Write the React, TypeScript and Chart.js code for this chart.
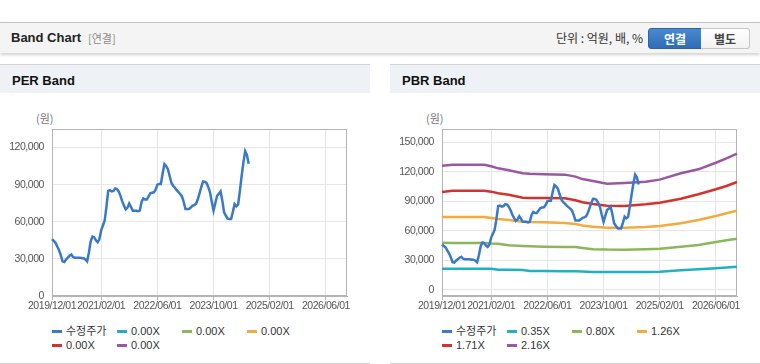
import React, { useEffect, useRef } from 'react';
import { Chart, registerables } from 'chart.js';

Chart.register(...registerables);

// ---------- DATA ----------
// semi-monthly categories from 2019/12/01 to 2026/12/01
const dateLabels: string[] = (() => {
  const out: string[] = [];
  for (let i = 0; i <= 168; i++) {
    const total = 2019 * 12 + 11 + Math.floor(i / 2);
    const y = Math.floor(total / 12);
    const m = (total % 12) + 1;
    out.push(`${y}/${String(m).padStart(2, '0')}/${i % 2 ? '16' : '01'}`);
  }
  return out;
})();

const xTickLabels = ['2019/12/01', '2021/02/01', '2022/06/01', '2023/10/01', '2025/02/01', '2026/06/01'];

const perYTicks = [0, 30000, 60000, 90000, 120000];
const pbrYTicks = [0, 30000, 60000, 90000, 120000, 150000];

// 수정주가 (semi-monthly, from 2019/12/01)
const priceValues = [
  46000, 44500, 43000, 40000, 37000, 33000, 28000, 27500, 29500, 31000,
  32500, 33500, 31500, 31000, 31000, 31000, 31000, 30500, 30500, 29500,
  28000, 35000, 44000, 48000, 47500, 45000, 43500, 46000, 53000, 57000,
  61000, 72000, 85000, 85500, 84500, 85000, 87000, 86500, 84500, 81000,
  76500, 73000, 70000, 71500, 74800, 72000, 69000, 69000, 69000, 68500,
  69000, 76000, 79000, 78000, 78000, 80500, 83000, 83500, 83800, 86000,
  90000, 90500, 90500, 99000, 106500, 105000, 102500, 97000, 91500, 89000,
  87500, 85500, 84000, 82500, 80500, 76000, 70300, 70300, 70300, 71500,
  73000, 73500, 74500, 78000, 83000, 88000, 92500, 92300, 91400, 88000,
  83800, 76000, 69000, 75000, 81000, 82500, 84500, 77000, 67600, 65000,
  62500, 62200, 62200, 68000, 74300, 72500, 74000, 85000, 97000, 108000,
  117000, 114000, 107000,
];

// PBR band points
const bandDates = [
  '2019/12/01', '2020/03/01', '2020/12/01', '2021/02/01', '2021/04/01', '2021/07/01',
  '2021/11/01', '2022/01/01', '2022/05/01', '2022/11/01', '2023/02/01', '2023/04/01',
  '2023/07/01', '2023/11/01', '2024/04/01', '2024/10/01', '2025/02/01', '2025/08/01',
  '2026/01/01', '2026/06/01', '2026/09/01', '2026/12/01',
];
const band035 = [21400, 21400, 21400, 21400, 20300, 20200, 20000, 19000, 19000, 18800, 18800, 18600, 18000, 18000, 18000, 18000, 18200, 19700, 20700, 21800, 22500, 23400];
const band080 = [47800, 47600, 47500, 47000, 46800, 45100, 44400, 44100, 43800, 43500, 43300, 42400, 41200, 40800, 40700, 41200, 41700, 43700, 45500, 48500, 50200, 51900];
const band126 = [73900, 73900, 73900, 72900, 72000, 70900, 69200, 68800, 68500, 67900, 66800, 65300, 64100, 63000, 63000, 63800, 64800, 67500, 70900, 74900, 77700, 80300];
const band171 = [99400, 100600, 100600, 99700, 98000, 96600, 93600, 93300, 93200, 92900, 91000, 89000, 87100, 85400, 85100, 86800, 88500, 92500, 97000, 102100, 105500, 109500];
const band216 = [126000, 127000, 127000, 125500, 123400, 121400, 118400, 117800, 117300, 117000, 115000, 112500, 110500, 107800, 108600, 109800, 111900, 118400, 122400, 129100, 133600, 138300];

const priceLabel = '수정주가';
const perBandLabels = ['0.00X', '0.00X', '0.00X', '0.00X', '0.00X'];
const pbrBandLabels = ['0.35X', '0.80X', '1.26X', '1.71X', '2.16X'];
const pbrBandValues = [band035, band080, band126, band171, band216];

const priceColor = '#3a78c8';
const bandColors = ['#1fb0c6', '#8cb65a', '#f3aa3e', '#d2332e', '#9b57a6'];

// ---------- CHART ----------
const FONT = '"Liberation Sans", Arial, sans-serif';

const tightText = {
  id: 'tightText',
  beforeLayout(chart: any) {
    (chart.ctx as any).letterSpacing = '-0.45px';
  },
  beforeDraw(chart: any) {
    (chart.ctx as any).letterSpacing = '-0.45px';
  },
};

const borderBox = {
  id: 'borderBox',
  beforeDatasetsDraw(chart: any) {
    const { ctx, chartArea: a } = chart;
    ctx.save();
    ctx.strokeStyle = '#b4b4b4';
    ctx.lineWidth = 1;
    ctx.strokeRect(Math.round(a.left) + 0.5, Math.round(a.top) + 0.5, Math.round(a.right - a.left) - 1, Math.round(a.bottom - a.top) - 1);
    ctx.restore();
  },
};

function makeConfig(datasets: any[], yMin: number, yMax: number, yTicks: number[]): any {
  return {
    type: 'line',
    data: { labels: dateLabels, datasets },
    options: {
      animation: false,
      responsive: false,
      events: [],
      layout: { padding: { top: 28, right: 23, left: 0, bottom: 0 } },
      plugins: { legend: { display: false }, tooltip: { enabled: false } },
      elements: { point: { radius: 0 }, line: { borderWidth: 2.5, tension: 0 } },
      scales: {
        x: {
          type: 'category',
          offset: false,
          grid: { color: '#e6e6e6', tickColor: '#b4b4b4', tickLength: 4, drawTicks: true },
          border: { color: '#b4b4b4' },
          ticks: {
            autoSkip: false,
            maxRotation: 0,
            minRotation: 0,
            padding: 0,
            color: '#555',
            font: { family: FONT, size: 10.5 },
          },
          afterBuildTicks: (s: any) => {
            s.ticks = xTickLabels.map((d) => ({ value: dateLabels.indexOf(d) }));
          },
          afterFit: (s: any) => {
            s.height = 25;
          },
        },
        y: {
          min: yMin,
          max: yMax,
          grid: { color: '#e6e6e6', drawTicks: false },
          border: { color: '#b4b4b4' },
          ticks: {
            padding: 8,
            color: '#555',
            font: { family: FONT, size: 10.5 },
            callback: (v: any) => Number(v).toLocaleString('en-US'),
          },
          afterBuildTicks: (s: any) => {
            s.ticks = yTicks.map((v) => ({ value: v }));
          },
          afterFit: (s: any) => {
            s.width = 52;
          },
        },
      },
    },
    plugins: [tightText, borderBox],
  };
}

function BandCanvas({ kind }: { kind: 'PER' | 'PBR' }) {
  const ref = useRef<HTMLCanvasElement | null>(null);
  useEffect(() => {
    if (!ref.current) return;
    const priceDs = {
      label: priceLabel,
      data: priceValues,
      borderColor: priceColor,
      backgroundColor: priceColor,
      fill: false,
    };
    let datasets: any[];
    let chart: Chart;
    if (kind === 'PER') {
      datasets = [
        priceDs,
        ...perBandLabels.map((l, i) => ({ label: l, data: [], borderColor: bandColors[i], fill: false })),
      ];
      chart = new Chart(ref.current, makeConfig(datasets, 0, 135000, perYTicks));
    } else {
      datasets = [
        priceDs,
        ...pbrBandLabels.map((l, i) => ({
          label: l,
          data: bandDates.map((d, j) => ({ x: d, y: pbrBandValues[i][j] })),
          borderColor: bandColors[i],
          fill: false,
        })),
      ];
      chart = new Chart(ref.current, makeConfig(datasets, -6400, 163400, pbrYTicks));
    }
    return () => chart.destroy();
  }, [kind]);
  return <canvas ref={ref} width={370} height={220} style={{ position: 'absolute', left: 0, top: 36, width: 370, height: 220 }} />;
}

function Legend({ labels }: { labels: string[] }) {
  const items = [{ label: priceLabel, color: priceColor }, ...labels.map((l, i) => ({ label: l, color: bandColors[i] }))];
  return (
    <>
      {items.map((it, i) => {
        const col = i % 4;
        const row = Math.floor(i / 4);
        return (
          <div
            key={i}
            style={{
              position: 'absolute',
              left: 52 + col * 65,
              top: 259 + row * 14,
              height: 14,
              lineHeight: '14px',
              display: 'flex',
              alignItems: 'center',
              fontFamily: '"Liberation Sans", "Noto Sans CJK KR", sans-serif',
              fontSize: 11,
              color: '#333',
              whiteSpace: 'nowrap',
            }}
          >
            <span style={{ display: 'inline-block', width: 10, height: 3, background: it.color, marginRight: 4 }} />
            <span>{it.label}</span>
          </div>
        );
      })}
    </>
  );
}

function Panel({ left, title, kind, labels }: { left: number; title: string; kind: 'PER' | 'PBR'; labels: string[] }) {
  return (
    <div
      style={{
        position: 'absolute',
        left,
        top: 64,
        width: 370,
        height: 298,
        background: '#fff',
        borderTop: '1px solid #d6d6d6',
        borderBottom: '1px solid #d0d0d0',
      }}
    >
      <div
        style={{
          position: 'absolute',
          left: 0,
          top: 0,
          width: 370,
          height: 28,
          background: '#eef2f7',
        }}
      >
        <div
          style={{
            position: 'absolute',
            left: 12,
            top: 2,
            height: 28,
            lineHeight: '28px',
            fontFamily: '"Liberation Sans", "Noto Sans CJK KR", sans-serif',
            fontWeight: 'bold',
            fontSize: 13,
            color: '#111',
          }}
        >
          {title}
        </div>
      </div>
      <div
        style={{
          position: 'absolute',
          left: 36,
          top: 46,
          fontFamily: '"Noto Sans CJK KR", sans-serif',
          fontSize: 11,
          lineHeight: '14px',
          color: '#777',
        }}
      >
        (원)
      </div>
      <BandCanvas kind={kind} />
      <Legend labels={labels} />
    </div>
  );
}

export default function App() {
  return (
    <div style={{ position: 'absolute', left: 0, top: 0, width: 760, height: 364, background: '#fff', overflow: 'hidden' }}>
      <div
        style={{
          position: 'absolute',
          left: 0,
          top: 22,
          width: 760,
          height: 30,
          background: '#f4f4f4',
          borderTop: '1px solid #c4c4c4',
          boxShadow: '0 2px 3px rgba(0,0,0,0.18)',
        }}
      >
        <div
          style={{
            position: 'absolute',
            left: 11,
            top: 0,
            height: 30,
            lineHeight: '30px',
            fontFamily: '"Liberation Sans", "Noto Sans CJK KR", sans-serif',
            fontWeight: 'bold',
            fontSize: 13,
            color: '#222',
          }}
        >
          Band Chart
        </div>
        <div
          style={{
            position: 'absolute',
            left: 88,
            top: 0,
            height: 30,
            lineHeight: '30px',
            fontFamily: '"Noto Sans CJK KR", sans-serif',
            fontSize: 11,
            color: '#8a8a8a',
          }}
        >
          [연결]
        </div>
        <div
          style={{
            position: 'absolute',
            right: 117,
            top: 0,
            height: 30,
            lineHeight: '30px',
            fontFamily: '"Noto Sans CJK KR", sans-serif',
            fontSize: 12,
            color: '#333',
            whiteSpace: 'nowrap',
          }}
        >
          단위 : 억원, 배, %
        </div>
        <div
          style={{
            position: 'absolute',
            left: 648,
            top: 5,
            width: 52,
            height: 19,
            lineHeight: '19px',
            textAlign: 'center',
            background: 'linear-gradient(#4a88d0, #2f6db8)',
            border: '1px solid #2c63a6',
            borderRadius: '3px 0 0 3px',
            color: '#fff',
            fontFamily: '"Noto Sans CJK KR", sans-serif',
            fontWeight: 'bold',
            fontSize: 12,
          }}
        >
          연결
        </div>
        <div
          style={{
            position: 'absolute',
            left: 701,
            top: 5,
            width: 48,
            height: 19,
            lineHeight: '19px',
            textAlign: 'center',
            background: 'linear-gradient(#ffffff, #f2f2f2)',
            border: '1px solid #c6c6c6',
            borderLeft: 'none',
            borderRadius: '0 3px 3px 0',
            color: '#444',
            fontFamily: '"Noto Sans CJK KR", sans-serif',
            fontWeight: 'bold',
            fontSize: 12,
          }}
        >
          별도
        </div>
      </div>
      <Panel left={0} title="PER Band" kind="PER" labels={perBandLabels} />
      <Panel left={390} title="PBR Band" kind="PBR" labels={pbrBandLabels} />
    </div>
  );
}
